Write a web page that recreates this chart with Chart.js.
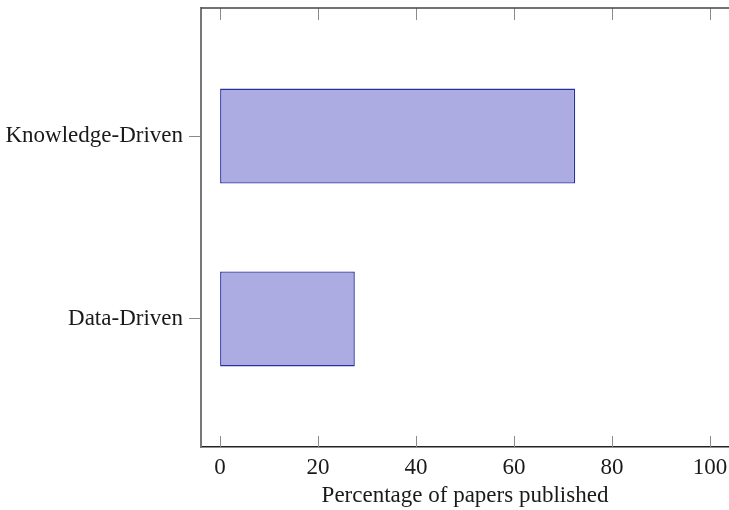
<!DOCTYPE html>
<html>
<head>
<meta charset="utf-8">
<script src="https://cdn.jsdelivr.net/npm/chart.js@4"></script>
<style>
  html, body { margin: 0; padding: 0; background: #fff; }
  #wrap { width: 729px; height: 510px; }
</style>
</head>
<body>
<div id="wrap"><canvas id="chart" width="729" height="510"></canvas></div>
<script>
// --- DATA ---
const categories = ['Data-Driven', 'Knowledge-Driven'];
const percentages = [27.5, 72.5];
const xTicks = [0, 20, 40, 60, 80, 100];
const xTitle = 'Percentage of papers published';

const FONT = '"Liberation Serif", "DejaVu Serif", serif';

// inside tick marks on top and bottom edges plus top frame line (pgfplots look)
const frameTicks = {
  id: 'frameTicks',
  afterDraw(chart) {
    const { ctx, chartArea: a, scales: { x } } = chart;
    ctx.save();
    ctx.strokeStyle = '#8a8a8a';
    ctx.lineWidth = 1;
    xTicks.forEach(v => {
      const px = Math.round(x.getPixelForValue(v)) + 0.5;
      ctx.beginPath();
      ctx.moveTo(px, a.bottom);
      ctx.lineTo(px, a.bottom - 11);
      ctx.moveTo(px, a.top);
      ctx.lineTo(px, a.top + 12);
      ctx.stroke();
    });
    ctx.strokeStyle = '#444';
    ctx.lineWidth = 1.5;
    ctx.beginPath();
    ctx.moveTo(a.left, a.top);
    ctx.lineTo(a.right, a.top);
    ctx.stroke();
    ctx.restore();
  }
};

new Chart(document.getElementById('chart'), {
  type: 'bar',
  data: {
    datasets: [{
      data: percentages.map((v, i) => ({ x: v, y: i })),
      backgroundColor: 'rgb(172,172,226)',
      borderColor: 'rgb(40,48,160)',
      borderWidth: 1.4,
      borderSkipped: false,
      barPercentage: 0.52,
      categoryPercentage: 1
    }]
  },
  options: {
    indexAxis: 'y',
    responsive: false,
    animation: false,
    layout: { padding: { top: 8, right: 0, left: 0, bottom: 0 } },
    plugins: { legend: { display: false }, tooltip: { enabled: false } },
    scales: {
      x: {
        type: 'linear',
        min: -3.9,
        max: 103.9,
        afterBuildTicks: s => { s.ticks = xTicks.map(v => ({ value: v })); },
        afterFit: s => { s.height = 63; s.paddingLeft = 0; s.paddingRight = 0; },
        grid: { display: false, drawTicks: false },
        border: { display: true, color: '#222', width: 1.5 },
        ticks: { color: '#1a1a1a', padding: 7, font: { family: FONT, size: 23 } },
        title: {
          display: true, text: xTitle, color: '#1a1a1a',
          font: { family: FONT, size: 23 }, padding: { top: 0, bottom: 0 }
        }
      },
      y: {
        type: 'linear',
        offset: false,
        min: -0.7,
        max: 1.7,
        afterBuildTicks: s => { s.ticks = categories.map((c, i) => ({ value: i })); },
        afterFit: s => { s.width = 201; s.paddingTop = 0; s.paddingBottom = 0; },
        grid: { offset: false, drawOnChartArea: false, drawTicks: true, tickLength: 12, color: '#8a8a8a' },
        border: { display: true, color: '#777', width: 2 },
        ticks: {
          color: '#1a1a1a', padding: 6, font: { family: FONT, size: 23 },
          callback: v => categories[v]
        }
      }
    }
  },
  plugins: [frameTicks]
});
</script>
</body>
</html>
